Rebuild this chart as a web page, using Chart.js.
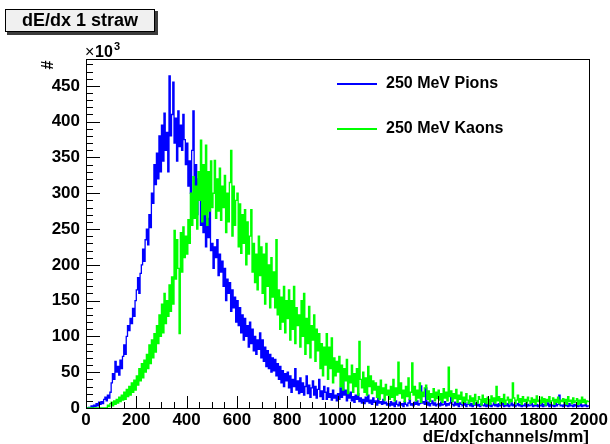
<!DOCTYPE html>
<html>
<head>
<meta charset="utf-8">
<script src="https://cdn.jsdelivr.net/npm/chart.js@4.4.0/dist/chart.umd.min.js"></script>
<style>
  body { margin: 0; background: #fff; }
  #wrap { width: 610px; height: 444px; }
</style>
</head>
<body>
<div id="wrap"><canvas id="dedxChart" width="610" height="444"></canvas></div>
<script>
  // histogram: 400 bins of 5 channels/mm from 0 to 2000, counts in units of 10^3
  var binWidth = 5;
  var xMin = 0, xMax = 2000;
  var yMax = 487.5;

  var pions = [
    0, 0, 1, 0, 3, 1, 4, 2, 6, 3,                  // 0-50
    8, 5, 9, 6, 12, 15, 10, 18, 14, 22,            // 50-100
    35, 48, 40, 65, 50, 58, 46, 67, 55, 72,        // 100-150
    88, 75, 100, 115, 108, 125, 118, 139, 128, 150,
    165, 182, 160, 188, 200, 222, 205, 235, 250, 228,   // 200-250
    270, 252, 300, 286, 340, 312, 356, 320, 380, 330,
    395, 345, 412, 360, 385, 330, 464, 380, 410, 455,   // 300-350
    370, 405, 345, 415, 365, 395, 360, 410, 375, 340,
    370, 310, 345, 300, 360, 415, 285, 340, 270, 320,   // 400-450
    300, 255, 310, 245, 275, 225, 265, 238, 277, 220,
    230, 195, 225, 210, 235, 185, 215, 190, 205, 170,   // 500-550
    195, 150, 180, 160, 175, 135, 165, 140, 155, 120,
    150, 115, 140, 105, 130, 95, 125, 100, 115, 85,     // 600-650
    120, 90, 110, 80, 100, 75, 95, 82, 105, 70,
    95, 65, 85, 58, 80, 55, 75, 50, 70, 52,             // 700-750
    68, 45, 62, 40, 58, 35, 52, 30, 48, 38,
    50, 28, 45, 22, 40, 30, 55, 25, 38, 20,             // 800-850
    42, 22, 35, 18, 30, 45, 20, 32, 15, 28,
    38, 18, 30, 14, 26, 40, 16, 24, 12, 30,             // 900-950
    22, 12, 28, 15, 20, 11, 25, 14, 18, 10,
    20, 12, 28, 15, 44, 18, 25, 10, 20, 14,             // 1000-1050
    22, 10, 16, 8, 18, 12, 20, 9, 14, 7,
    12, 6, 15, 9, 18, 7, 11, 5, 14, 8,                  // 1100-1150
    10, 4, 13, 7, 9, 5, 12, 6, 8, 4,
    6, 3, 9, 4, 7, 2, 10, 5, 3, 8,                      // 1200-1250
    4, 6, 2, 9, 5, 3, 7, 12, 4, 6,
    3, 8, 5, 10, 4, 6, 31, 7, 9, 5,                     // 1300-1350
    28, 4, 8, 3, 6, 10, 4, 7, 3, 5,
    6, 3, 8, 4, 5, 9, 3, 6, 4, 7,                       // 1400-1450
    20, 5, 3, 8, 4, 6, 2, 7, 5, 3,
    4, 7, 2, 5, 8, 3, 6, 2, 5, 4,                       // 1500-1550
    7, 3, 5, 2, 6, 4, 3, 7, 2, 5,
    3, 6, 2, 4, 7, 3, 5, 2, 6, 3,                       // 1600-1650
    4, 8, 2, 5, 3, 6, 2, 4, 7, 3,
    5, 2, 4, 6, 3, 5, 2, 4, 3, 6,                       // 1700-1750
    2, 5, 3, 4, 7, 2, 4, 3, 5, 2,
    4, 3, 6, 2, 5, 3, 4, 7, 2, 5,                       // 1800-1850
    3, 4, 2, 6, 3, 5, 18, 3, 4, 2,
    5, 3, 4, 2, 6, 3, 4, 2, 5, 3,                       // 1900-1950
    4, 2, 3, 6, 2, 4, 3, 5, 2, 3
  ];

  var kaons = [
    0, 0, 0, 0, 0, 0, 0, 0, 0, 0,                  // 0-50
    0, 0, 0, 0, 0, 0, 0, 4, 2, 6,                  // 50-100
    8, 3, 10, 5, 12, 7, 15, 9, 18, 11,             // 100-150
    22, 12, 26, 16, 30, 18, 35, 22, 39, 25,
    45, 32, 55, 38, 62, 42, 67, 50, 75, 55,        // 200-250
    88, 62, 95, 70, 104, 78, 115, 90, 130, 100,
    145, 105, 160, 118, 150, 128, 172, 135, 183, 145,   // 300-350
    248, 180, 235, 195, 104, 245, 190, 253, 210, 240,
    215, 263, 230, 300, 255, 323, 265, 310, 250, 330,   // 400-450
    290, 374, 260, 340, 270, 367, 255, 330, 275, 345,
    280, 300, 346, 265, 320, 275, 335, 262, 310, 280,   // 500-550
    325, 245, 300, 260, 315, 360, 240, 310, 255, 290,
    300, 225, 285, 216, 270, 230, 277, 200, 260, 215,   // 600-650
    240, 277, 190, 230, 175, 215, 165, 240, 185, 225,
    160, 215, 145, 230, 170, 200, 140, 210, 155, 190,   // 700-750
    140, 235, 130, 165, 110, 155, 120, 170, 105, 150,
    125, 165, 95, 150, 110, 170, 90, 140, 115, 130,     // 800-850
    85, 150, 100, 160, 75, 125, 90, 142, 70, 115,
    95, 130, 65, 110, 80, 104, 55, 90, 45, 85,          // 900-950
    60, 104, 40, 85, 55, 98, 35, 70, 45, 65,
    50, 72, 30, 60, 25, 55, 38, 68, 20, 45,             // 1000-1050
    35, 60, 22, 48, 30, 55, 18, 93, 40, 28,
    50, 22, 42, 18, 58, 30, 45, 20, 38, 25,             // 1100-1150
    35, 15, 30, 12, 39, 20, 28, 11, 33, 18,
    25, 12, 30, 15, 40, 10, 28, 18, 64, 20,             // 1200-1250
    35, 14, 25, 9, 30, 16, 42, 12, 22, 63,
    18, 30, 10, 25, 14, 35, 8, 22, 16, 28,              // 1300-1350
    32, 12, 24, 9, 20, 15, 27, 10, 22, 13,
    25, 11, 20, 8, 27, 14, 22, 10, 57, 16,              // 1400-1450
    24, 9, 20, 13, 26, 8, 18, 12, 22, 7,
    15, 8, 20, 11, 6, 17, 9, 14, 5, 19,                 // 1500-1550
    10, 7, 16, 12, 4, 18, 8, 13, 6, 15,
    12, 5, 17, 9, 14, 7, 30, 10, 16, 6,                 // 1600-1650
    13, 8, 19, 5, 11, 15, 7, 12, 9, 35,
    14, 6, 11, 18, 8, 13, 5, 16, 9, 12,                 // 1700-1750
    7, 15, 10, 6, 14, 8, 12, 5, 17, 9,
    11, 6, 15, 8, 13, 4, 12, 9, 16, 7,                  // 1800-1850
    10, 14, 5, 12, 8, 15, 6, 11, 9, 13,
    7, 12, 5, 16, 9, 11, 6, 14, 8, 10,                  // 1900-1950
    13, 5, 11, 7, 15, 8, 12, 6, 10, 9
  ];

  var seriesNames = ['250 MeV Pions', '250 MeV Kaons'];
  var seriesColors = ['#0000ff', '#00ff00'];
  var xTickValues = [0, 200, 400, 600, 800, 1000, 1200, 1400, 1600, 1800, 2000];
  var yTickValues = [0, 50, 100, 150, 200, 250, 300, 350, 400, 450];

  // histogram outline: one point per low bin edge, plus the last upper edge
  function toSteps(vals) {
    var pts = [];
    for (var i = 0; i < vals.length; i++) {
      pts.push({ x: xMin + i * binWidth, y: vals[i] });
    }
    pts.push({ x: xMin + vals.length * binWidth, y: vals[vals.length - 1] });
    return pts;
  }

  var FONT = '"Liberation Sans", Arial, Helvetica, sans-serif';

  // ROOT style frame, inward ticks, title box, legend
  var rootDecor = {
    id: 'rootDecor',
    afterDraw: function(chart) {
      var ctx = chart.ctx, a = chart.chartArea;
      var sx = chart.scales.x, sy = chart.scales.y;
      var left = Math.round(a.left), right = Math.round(a.right);
      var top = Math.round(a.top), bottom = Math.round(a.bottom);
      ctx.save();
      ctx.fillStyle = '#000';
      // frame
      ctx.fillRect(left, top, right - left, 1);
      ctx.fillRect(left, bottom, right - left + 1, 1);
      ctx.fillRect(left, top, 1, bottom - top);
      ctx.fillRect(right, top, 1, bottom - top + 1);

      // inward ticks
      for (var v = xMin; v <= xMax; v += 50) {
        var px = Math.round(sx.getPixelForValue(v));
        var len = (v % 200 === 0) ? 12 : 6;
        ctx.fillRect(px, bottom - len, 1, len);
      }
      for (v = 0; v <= yMax; v += 10) {
        var py = Math.round(sy.getPixelForValue(v));
        len = (v % 50 === 0) ? 14 : 7;
        ctx.fillRect(left, py, len, 1);
      }

      // axis titles
      ctx.font = 'bold 17px ' + FONT;
      ctx.textAlign = 'right';
      ctx.textBaseline = 'alphabetic';
      ctx.fillText('dE/dx[channels/mm]', a.right, 442);

      ctx.save();
      ctx.translate(49, 65);
      ctx.rotate(-Math.PI / 2);
      ctx.textAlign = 'center';
      ctx.textBaseline = 'middle';
      ctx.font = 'bold 16px ' + FONT;
      ctx.fillText('#', 0, 0);
      ctx.restore();

      // exponent
      ctx.textAlign = 'left';
      ctx.textBaseline = 'alphabetic';
      ctx.font = '16px ' + FONT;
      ctx.fillText('\u00d7', a.left - 1, 57);
      ctx.font = 'bold 16px ' + FONT;
      ctx.fillText('10', a.left + 9, 57);
      ctx.font = 'bold 11px ' + FONT;
      ctx.fillText('3', a.left + 28, 50);

      // title box
      ctx.fillStyle = '#3c3c3c';
      ctx.fillRect(7, 11, 151, 24);
      ctx.fillStyle = '#f0f0f0';
      ctx.fillRect(5, 9, 150, 23);
      ctx.strokeStyle = '#000';
      ctx.lineWidth = 1;
      ctx.strokeRect(5.5, 9.5, 149, 22);
      ctx.fillStyle = '#000';
      ctx.font = 'bold 18px ' + FONT;
      ctx.textAlign = 'center';
      ctx.textBaseline = 'middle';
      ctx.fillText('dE/dx 1 straw', 80, 21);

      // legend
      var ly = [84, 129];
      for (var i = 0; i < seriesNames.length; i++) {
        ctx.strokeStyle = seriesColors[i];
        ctx.lineWidth = 2;
        ctx.beginPath();
        ctx.moveTo(337, ly[i]);
        ctx.lineTo(377, ly[i]);
        ctx.stroke();
        ctx.fillStyle = '#000';
        ctx.font = 'bold 16px ' + FONT;
        ctx.textAlign = 'left';
        ctx.textBaseline = 'middle';
        ctx.fillText(seriesNames[i], 386, ly[i]);
      }
      ctx.restore();
    }
  };

  var ctxDedx = document.getElementById('dedxChart').getContext('2d');
  var dedxChart = new Chart(ctxDedx, {
    type: 'line',
    data: {
      datasets: [{
        label: seriesNames[0],
        data: toSteps(pions),
        borderColor: seriesColors[0],
        borderWidth: 1.3,
        pointRadius: 0,
        stepped: true,
        order: 2
      }, {
        label: seriesNames[1],
        data: toSteps(kaons),
        borderColor: seriesColors[1],
        borderWidth: 1.3,
        pointRadius: 0,
        stepped: true,
        order: 1
      }]
    },
    options: {
      responsive: false,
      animation: false,
      layout: { padding: { left: 0, top: 59, right: 21, bottom: 0 } },
      plugins: {
        legend: { display: false },
        title: { display: false },
        tooltip: { enabled: false }
      },
      scales: {
        x: {
          type: 'linear',
          min: xMin,
          max: xMax,
          grid: { display: false, drawTicks: false },
          border: { display: false },
          afterFit: function(s) { s.height = 36; },
          afterBuildTicks: function(s) {
            s.ticks = xTickValues.map(function(v) { return { value: v }; });
          },
          ticks: {
            padding: 2,
            maxRotation: 0,
            autoSkip: false,
            color: '#000',
            font: { family: FONT, size: 17, weight: 'bold' },
            callback: function(v) { return String(v); }
          }
        },
        y: {
          type: 'linear',
          min: 0,
          max: yMax,
          grid: { display: false, drawTicks: false },
          border: { display: false },
          afterFit: function(s) { s.width = 86; },
          afterBuildTicks: function(s) {
            s.ticks = yTickValues.map(function(v) { return { value: v }; });
          },
          ticks: {
            padding: 6,
            autoSkip: false,
            color: '#000',
            font: { family: FONT, size: 17, weight: 'bold' },
            callback: function(v) { return String(v); }
          }
        }
      }
    },
    plugins: [rootDecor]
  });
</script>
</body>
</html>
